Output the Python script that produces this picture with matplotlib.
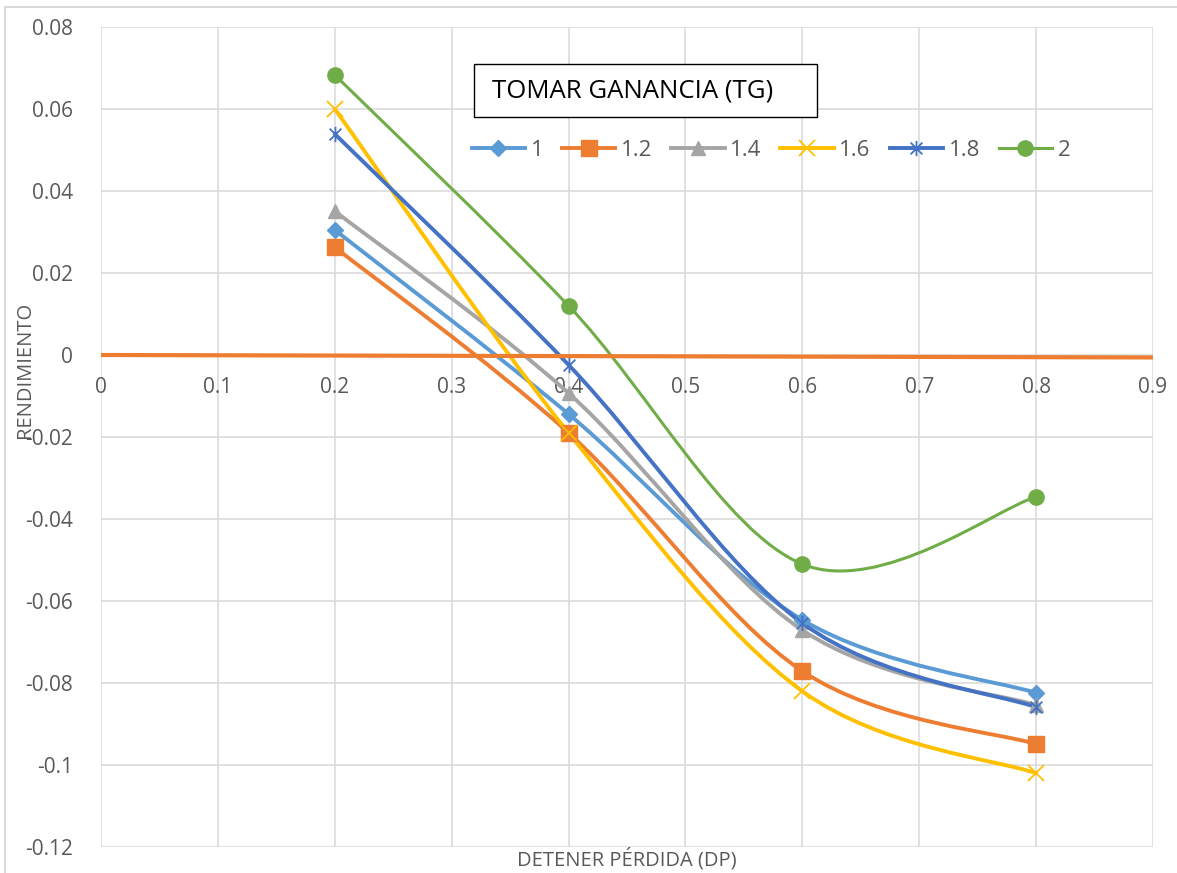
import matplotlib
matplotlib.use("Agg")
import matplotlib.pyplot as plt
import numpy as np
from matplotlib.path import Path
from matplotlib.patches import PathPatch, Rectangle
from matplotlib.lines import Line2D

plt.rcParams["font.family"] = ["Open Sans", "DejaVu Sans"]

x_dp = [0.2, 0.4, 0.6, 0.8]
series_labels = ["1", "1.2", "1.4", "1.6", "1.8", "2"]
y_1 = [0.0305, -0.0144, -0.0646, -0.0824]
y_12 = [0.0263, -0.0190, -0.0771, -0.0949]
y_14 = [0.0351, -0.0093, -0.0671, -0.0854]
y_16 = [0.0600, -0.0190, -0.0820, -0.1020]
y_18 = [0.0539, -0.0024, -0.0654, -0.0859]
y_2 = [0.0683, 0.0120, -0.0510, -0.0346]
zero_x = [0.0, 0.9]
zero_y = [0.0, -0.0006]

xticks = [0, 0.1, 0.2, 0.3, 0.4, 0.5, 0.6, 0.7, 0.8, 0.9]
yticks = [-0.12, -0.1, -0.08, -0.06, -0.04, -0.02, 0, 0.02, 0.04, 0.06, 0.08]

colors = ["#5B9BD5", "#ED7D31", "#A5A5A5", "#FFC000", "#4472C4", "#70AD47"]

star = Path([(-1, -1), (1, 1), (-1, 1), (1, -1), (0, -1.3), (0, 1.3)],
            [Path.MOVETO, Path.LINETO, Path.MOVETO, Path.LINETO, Path.MOVETO, Path.LINETO])
markers = ["D", "s", "^", "x", star, "o"]
msizes = [8, 11, 10, 12, 11, 11]
widths = [2.8, 2.8, 2.8, 2.8, 2.8, 2.2]


def smooth_path(xs, ys, t=1.0 / 6.0):
    # excel-like smoothed line: catmull-rom converted to cubic bezier
    pts = np.column_stack([xs, ys]).astype(float)
    n = len(pts)
    verts = [pts[0]]
    codes = [Path.MOVETO]
    for i in range(n - 1):
        p0 = pts[i - 1] if i > 0 else pts[i]
        p1 = pts[i]
        p2 = pts[i + 1]
        p3 = pts[i + 2] if i + 2 < n else pts[i + 1]
        verts += [p1 + (p2 - p0) * t, p2 - (p3 - p1) * t, p2]
        codes += [Path.CURVE4] * 3
    return Path(verts, codes)


fig = plt.figure(figsize=(11.77, 8.73), dpi=100)
ax = fig.add_axes([101 / 1177, 1 - 847 / 873, 1052 / 1177, 820 / 873])

fig.patches.append(Rectangle((5 / 1177, -0.1), 1.2, 1 - 7 / 873 + 0.1, transform=fig.transFigure,
                             facecolor="none", edgecolor="#D9D9D9", linewidth=1.5))

all_y = [y_1, y_12, y_14, y_16, y_18, y_2]
handles = []
for ys, lab, c, m, ms, lw in zip(all_y, series_labels, colors, markers, msizes, widths):
    ax.add_patch(PathPatch(smooth_path(x_dp, ys), facecolor="none", edgecolor=c, linewidth=lw,
                           capstyle="round", zorder=3))
    mew = 1.3 if m in ("x",) or m is star else 1
    ax.plot(x_dp, ys, linestyle="none", marker=m, markersize=ms, color=c, markeredgecolor=c,
            markeredgewidth=mew, zorder=5)
    handles.append(Line2D([], [], color=c, linewidth=lw, marker=m, markersize=ms,
                          markeredgecolor=c, markeredgewidth=mew))

ax.plot(zero_x, zero_y, color="#ED7D31", linewidth=3.0, zorder=4, solid_capstyle="butt")

ax.set_xlim(0, 0.9)
ax.set_ylim(-0.12, 0.08)
ax.set_xticks(xticks)
ax.set_yticks(yticks)
ax.set_xticklabels(["0" if v == 0 else f"{v:g}" for v in xticks])
ax.set_yticklabels(["0" if v == 0 else f"{v:g}" for v in yticks])
ax.grid(True, color="#D9D9D9", linewidth=1.1)
ax.set_axisbelow(True)
for s in ax.spines.values():
    s.set_visible(False)
ax.spines["bottom"].set_position(("data", 0))
ax.tick_params(length=0, labelsize=15, labelcolor="#595959")
ax.tick_params(axis="y", pad=20)
ax.tick_params(axis="x", pad=16)

fig.text(627 / 1177, 1 - 859 / 873, "DETENER PÉRDIDA (DP)", ha="center", va="center",
         fontsize=14.5, color="#595959")
fig.text(25 / 1177, 1 - 370 / 873, "RENDIMIENTO", ha="center", va="center", rotation=90,
         fontsize=14.5, color="#595959")

fig.patches.append(Rectangle((474 / 1177, 1 - 117 / 873), 343 / 1177, 53 / 873, transform=fig.transFigure,
                             facecolor="white", edgecolor="black", linewidth=1.0, zorder=10))
fig.text(492 / 1177, 1 - 91 / 873, "TOMAR GANANCIA (TG)", ha="left", va="center", fontsize=18.5,
         color="black", zorder=11)

ax.legend(handles, series_labels, loc="center", bbox_to_anchor=((771 - 101) / 1052, (847 - 150) / 820),
          ncol=6, frameon=False, fontsize=16, labelcolor="#595959", handlelength=2.4,
          handletextpad=0.25, columnspacing=0.85, numpoints=1)

fig.savefig("out.png", dpi=100)
